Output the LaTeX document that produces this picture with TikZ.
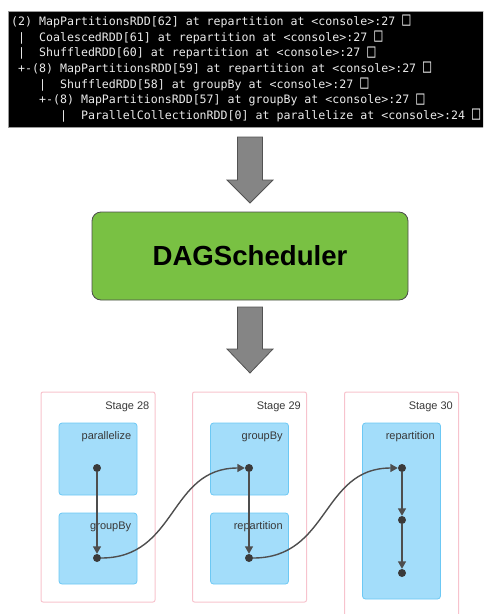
\documentclass[tikz,border=0pt]{standalone}
\usepackage{fontspec}
\setsansfont{Liberation Sans}
\setmonofont{DejaVu Sans Mono}
\usepackage{xcolor}
\usepackage{graphicx}
\usepackage{tikz}
\usetikzlibrary{arrows.meta}
\usetikzlibrary{positioning}
\definecolor{dagGreen}{HTML}{79C143}
\definecolor{stgPink}{HTML}{F7C3CD}
\definecolor{rddFill}{HTML}{A3DDFA}
\definecolor{rddLine}{HTML}{6CC8F4}
\definecolor{ptGray}{HTML}{3A3A3A}
\newcommand{\missbox}{{\fontsize{13.5}{14}\selectfont\raisebox{-0.3pt}{\scalebox{1}[1.4]{□}}}}
\tikzset{
  con_box/.style = {rectangle, fill=black, draw=black!40, inner sep=0pt,
    minimum width=490pt, minimum height=116pt},% la sortie toDebugString
  con_line/.style = {inner sep=0pt, text=black!8,
    font=\fontsize{11.6}{14}\ttfamily},
  dag_box/.style = {rectangle, rounded corners=9pt, fill=dagGreen,
    draw=black!70, thick, minimum width=316pt, minimum height=88pt,
    font=\fontsize{27.6}{32}\sffamily\bfseries},
  big_arr/.style = {fill=black!48, draw=black!68, line width=0.8pt},
  stg_box/.style = {rectangle, rounded corners=2pt, draw=stgPink,
    line width=1pt, minimum width=114pt, inner sep=0pt},% stage
  rdd_box/.style = {rectangle, rounded corners=3pt, fill=rddFill,
    draw=rddLine, line width=0.8pt, minimum width=78pt, inner sep=0pt},% operation
  lbl/.style = {inner sep=0pt, text=black!78,
    font=\fontsize{11}{13}\sffamily},
  rdd_pt/.style = {circle, fill=ptGray, inner sep=0pt, minimum size=8pt},
  dep/.style = {->, draw=ptGray!90, line width=1.4pt}
}

\begin{document}
\begin{tikzpicture}[x=1pt,y=-1pt,>={Triangle[length=7.5pt,width=8pt]}]
\path[use as bounding box, clip] (0,0) rectangle (483,614);

% console
\node [con_box, anchor=north west] (con) at (8,11) {};
\foreach \i/\txt in {
  0/{(2) MapPartitionsRDD[62] at repartition at <console>:27 \missbox},
  1/{~|~~CoalescedRDD[61] at repartition at <console>:27 \missbox},
  2/{~|~~ShuffledRDD[60] at repartition at <console>:27 \missbox},
  3/{~+-(8) MapPartitionsRDD[59] at repartition at <console>:27 \missbox},
  4/{~~~~|~~ShuffledRDD[58] at groupBy at <console>:27 \missbox},
  5/{~~~~+-(8) MapPartitionsRDD[57] at groupBy at <console>:27 \missbox},
  6/{~~~~~~~|~~ParallelCollectionRDD[0] at parallelize at <console>:24 \missbox}}
  \node [con_line, anchor=base west] (ln\i) at (11,{25.3+15.7*\i}) {\txt};

\draw [big_arr] (237.5,137) -- (262.5,137) -- (262.5,180) -- (273,180)
  -- (250,203) -- (227,180) -- (237.5,180) -- cycle;
\node [dag_box] (dag) at (250,256) {DAGScheduler};
\draw [big_arr] (237.5,307) -- (262.5,307) -- (262.5,349) -- (273,349)
  -- (250,373) -- (227,349) -- (237.5,349) -- cycle;

% stages
\node [stg_box, minimum height=210pt] (s28) at (98,497) {};
\node [stg_box, minimum height=210pt] (s29) at (249.5,497) {};
\node [stg_box, minimum height=250pt] (s30) at (401.5,517) {};
\node [lbl, below left=10pt and 6pt of s28.north east] {Stage 28};
\node [lbl, below left=10pt and 6pt of s29.north east] {Stage 29};
\node [lbl, below left=10pt and 6pt of s30.north east] {Stage 30};

\node [rdd_box, minimum height=72pt] (par) at (98,459) {};
\node [rdd_box, minimum height=71pt] (grp1) at (98,548.5) {};
\node [rdd_box, minimum height=72pt] (grp2) at (249.5,459) {};
\node [rdd_box, minimum height=71pt] (rep1) at (249.5,548.5) {};
\node [rdd_box, minimum height=176pt] (rep2) at (401.5,511) {};
\node [lbl, below left=9pt and 6pt of par.north east] {parallelize};
\node [lbl, below left=9pt and 6pt of grp1.north east] {groupBy};
\node [lbl, below left=9pt and 6pt of grp2.north east] {groupBy};
\node [lbl, below left=9pt and 6pt of rep1.north east] {repartition};
\node [lbl, below left=9pt and 6pt of rep2.north east] {repartition};

\node [rdd_pt] (a) at (97,468) {};
\node [rdd_pt] (b) at (97,558) {};
\node [rdd_pt] (c) at (249,468) {};
\node [rdd_pt] (d) at (249,558) {};
\node [rdd_pt] (e) at (402,468) {};
\node [rdd_pt] (f) at (402,520) {};
\node [rdd_pt] (g) at (402,573) {};

\draw [dep] (a) -- (b);
\draw [dep] (b) to[out=0,in=180,looseness=1.15] (c);
\draw [dep] (c) -- (d);
\draw [dep] (d) to[out=0,in=180,looseness=1.15] (e);
\draw [dep] (e) -- (f);
\draw [dep] (f) -- (g);
\end{tikzpicture}
\end{document}
